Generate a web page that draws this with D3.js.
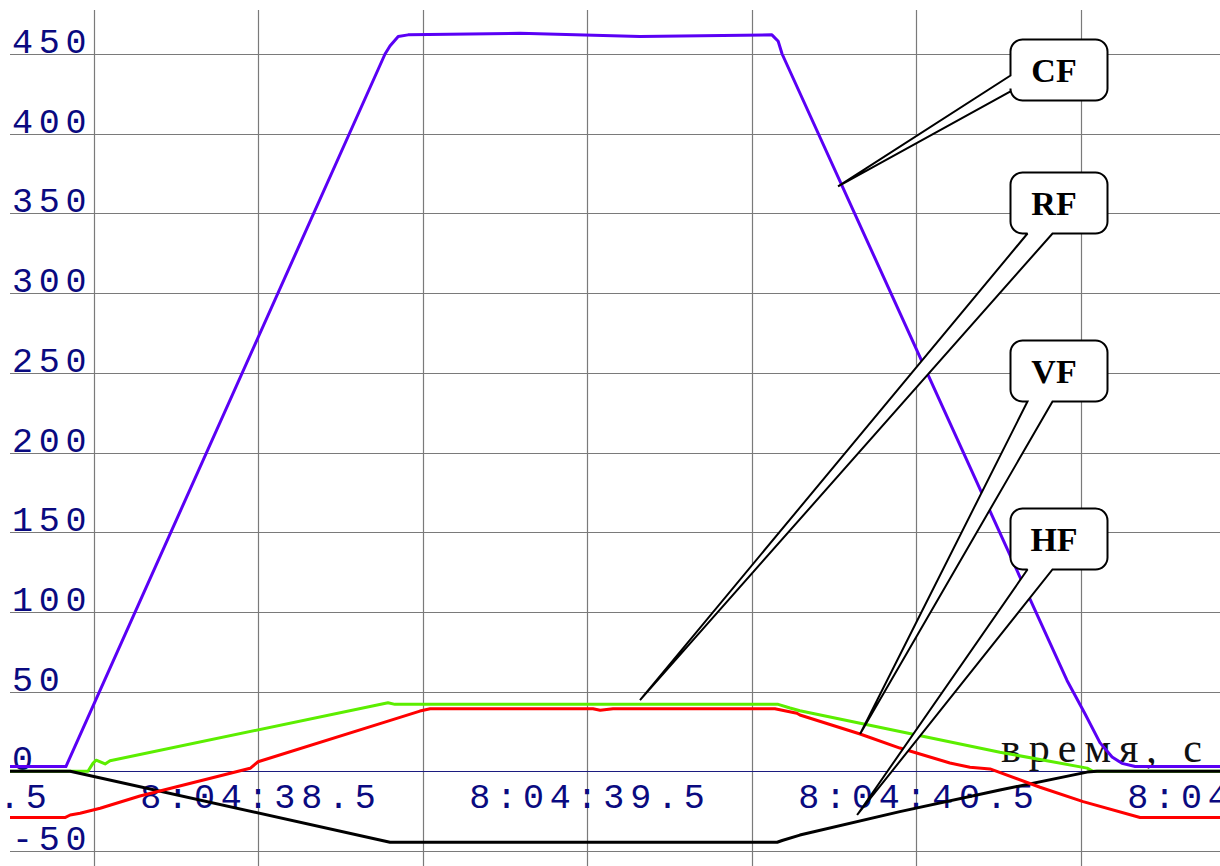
<!DOCTYPE html>
<html>
<head>
<meta charset="utf-8">
<script src="https://cdn.jsdelivr.net/npm/d3@7"></script>
<style>
  body { margin: 0; background: #fff; }
  svg { display: block; }
  .lbl { font-family: "Liberation Mono", "DejaVu Sans Mono", monospace; fill: #0a0a80; font-size: 35px; letter-spacing: 5.8px; }
  .callout text { font-family: "Liberation Serif", serif; font-weight: bold; font-size: 34px; }
</style>
</head>
<body>
<svg id="chart" width="1220" height="866"></svg>
<script>

// time = seconds after 8:04:00
var cfTime = [37.746, 37.916, 38.886, 38.901, 38.926, 38.956, 39.296, 39.661, 40.062, 40.081, 40.093, 40.959, 41.014, 41.059, 41.096, 41.126, 41.166, 41.424];
var cfVal  = [3, 3, 450, 455, 461, 462, 463, 461, 462, 458, 450, 57, 36, 18, 9, 5, 3, 3];

var vfTime = [37.746, 37.983, 37.998, 38.008, 38.035, 38.050, 38.895, 38.916, 40.081, 40.117, 40.147, 40.755, 41.020, 41.038, 41.424];
var vfVal  = [0, 0, 5, 7, 4.6, 6.6, 43, 42, 42, 39.7, 38, 12, 2, 0, 0];

var rfTime = [37.746, 37.913, 37.929, 37.959, 38.020, 38.141, 38.476, 38.500, 38.895, 38.992, 39.023, 39.518, 39.540, 39.579, 40.071, 40.138, 40.147, 40.330, 40.451, 40.603, 40.664, 40.725, 40.877, 41.008, 41.181, 41.424];
var rfVal  = [-29, -29, -27.4, -26.3, -23.2, -15.5, 1.9, 6, 31.5, 37.8, 39.3, 39.3, 38.3, 39.3, 39.3, 36.4, 35.3, 23.4, 14.6, 5.2, 2.5, 1.5, -10, -19, -29, -29];

var hfTime = [37.746, 37.929, 38.901, 40.078, 40.093, 40.147, 40.451, 40.755, 41.020, 41.050, 41.424];
var hfVal  = [0, 0, -44.5, -44.5, -43.4, -40, -25.3, -11.7, -0.5, 0, 0];

var yTicks = [450, 400, 350, 300, 250, 200, 150, 100, 50, 0, -50];
var xGrid = [38.0, 38.5, 39.0, 39.5, 40.0, 40.5, 41.0];
var xLabels = [37.5, 38.5, 39.5, 40.5, 41.5];

var calloutNames = ['CF', 'RF', 'VF', 'HF'];
var calloutTipTime = [40.263, 39.661, 40.330, 40.321];
var calloutTipVal = [367, 44.7, 23.4, -27.4];

var width = 1220, height = 866;
var svg = d3.select('#chart');

var x = d3.scaleLinear().domain([37.746, 41.424]).range([10, 1220]);
var y = d3.scaleLinear().domain([-59.4, 477.6]).range([866, 10]);

function zip(t, v) {
    return t.map(function(d, i) { return {t: d, v: v[i]}; });
}

function drawGrid() {
    var g = svg.append('g');
    g.selectAll('.hg').data(yTicks.filter(function(d) { return d != 0; }))
        .enter().append('line')
        .attr('x1', 10).attr('x2', width)
        .attr('y1', function(d) { return Math.round(y(d)) + 0.5; })
        .attr('y2', function(d) { return Math.round(y(d)) + 0.5; })
        .attr('stroke', '#7a7a7a').attr('stroke-width', 1.2);
    g.selectAll('.vg').data(xGrid)
        .enter().append('line')
        .attr('x1', function(d) { return Math.round(x(d)) + 0.5; })
        .attr('x2', function(d) { return Math.round(x(d)) + 0.5; })
        .attr('y1', 10).attr('y2', height)
        .attr('stroke', '#7a7a7a').attr('stroke-width', 1.2);
    // zero axis
    g.append('line')
        .attr('x1', 10).attr('x2', width)
        .attr('y1', Math.round(y(0)) + 0.5).attr('y2', Math.round(y(0)) + 0.5)
        .attr('stroke', '#1c1c80').attr('stroke-width', 1.2);
}

function drawLabels() {
    svg.append('g').selectAll('text').data(yTicks)
        .enter().append('text')
        .attr('class', 'lbl')
        .attr('x', 12)
        .attr('y', function(d) { return y(d) - 1; })
        .text(function(d) { return d; });

    svg.append('g').selectAll('text').data(xLabels)
        .enter().append('text')
        .attr('class', 'lbl')
        .attr('text-anchor', 'middle')
        .attr('x', function(d) { return x(d) + 2.9; })
        .attr('y', 808)
        .text(function(d) { return '8:04:' + d.toFixed(1); });

    svg.append('text')
        .attr('x', 1001).attr('y', 762)
        .attr('font-family', '"Liberation Serif", serif')
        .attr('font-size', 42)
        .attr('letter-spacing', '8px')
        .attr('fill', '#111')
        .text('время, с');
}

function drawSeries() {
    var line = d3.line().x(function(d) { return x(d.t); }).y(function(d) { return y(d.v); });
    var series = [
        {data: zip(cfTime, cfVal), color: '#5a00f5'},
        {data: zip(vfTime, vfVal), color: '#5cee00'},
        {data: zip(hfTime, hfVal), color: '#000000'},
        {data: zip(rfTime, rfVal), color: '#ff0000'}
    ];
    svg.append('g').selectAll('path').data(series)
        .enter().append('path')
        .attr('d', function(d) { return line(d.data); })
        .attr('fill', 'none')
        .attr('stroke', function(d) { return d.color; })
        .attr('stroke-width', 3)
        .attr('stroke-linejoin', 'round');
}

// rounded box with a wedge going to the tip
function calloutPath(bx, by, tx, ty, side) {
    var w = 97, h = 61, r = 12;
    var x0 = bx, y0 = by, x1 = bx + w, y1 = by + h;
    var p = 'M' + (x0 + r) + ',' + y0 +
        'H' + (x1 - r) + 'A' + r + ',' + r + ' 0 0 1 ' + x1 + ',' + (y0 + r) +
        'V' + (y1 - r) + 'A' + r + ',' + r + ' 0 0 1 ' + (x1 - r) + ',' + y1;
    if (side == 'bottom') {
        p += 'H' + (x0 + 42) + 'L' + tx + ',' + ty + 'L' + (x0 + 17) + ',' + y1;
        p += 'H' + (x0 + r) + 'A' + r + ',' + r + ' 0 0 1 ' + x0 + ',' + (y1 - r) + 'V' + (y0 + r);
    } else {
        p += 'H' + (x0 + r) + 'A' + r + ',' + r + ' 0 0 1 ' + x0 + ',' + (y1 - r);
        p += 'V' + (y0 + 52) + 'L' + tx + ',' + ty + 'L' + x0 + ',' + (y0 + 36) + 'V' + (y0 + r);
    }
    p += 'A' + r + ',' + r + ' 0 0 1 ' + (x0 + r) + ',' + y0 + 'Z';
    return p;
}

function drawCallouts() {
    var tops = [39, 172, 340, 508];
    var g = svg.append('g').attr('class', 'callout');
    calloutNames.forEach(function(name, i) {
        var tx = x(calloutTipTime[i]), ty = y(calloutTipVal[i]);
        g.append('path')
            .attr('d', calloutPath(1010.5, tops[i] + 0.5, tx, ty, i == 0 ? 'left' : 'bottom'))
            .attr('fill', '#fff')
            .attr('stroke', '#000')
            .attr('stroke-width', 2)
            .attr('stroke-linejoin', 'miter')
            .attr('stroke-miterlimit', 2);
        g.append('text')
            .attr('x', 1054).attr('y', tops[i] + 43)
            .attr('text-anchor', 'middle')
            .text(name);
    });
}

drawGrid();
drawLabels();
drawSeries();
drawCallouts();

</script>
</body>
</html>
